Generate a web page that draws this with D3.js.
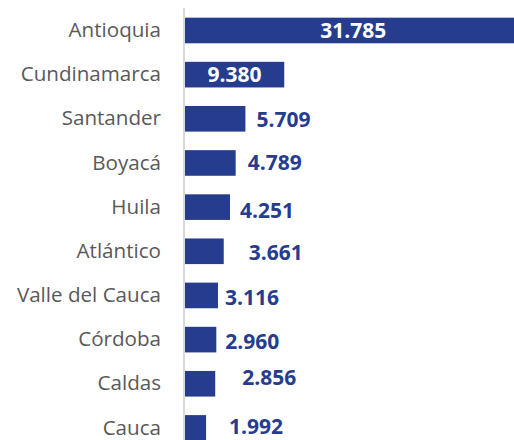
<!DOCTYPE html>
<html>
<head>
<meta charset="utf-8">
<script src="https://cdn.jsdelivr.net/npm/d3@7"></script>
<style>
  html, body { margin: 0; padding: 0; background: #fff; overflow: hidden; }
  svg { display: block; }
</style>
</head>
<body>
<svg id="chart" width="514" height="440"></svg>
<script>
const departments = ['Antioquia', 'Cundinamarca', 'Santander', 'Boyacá', 'Huila',
  'Atlántico', 'Valle del Cauca', 'Córdoba', 'Caldas', 'Cauca'];
const cases = [31785, 9380, 5709, 4789, 4251, 3661, 3116, 2960, 2856, 1992];
const valueLabels = ['31.785', '9.380', '5.709', '4.789', '4.251',
  '3.661', '3.116', '2.960', '2.856', '1.992'];

// hand-placed label nudges (like dragged labels in the original), px
const labelDx = [0, 0, 11, 12, 10, 25, 7, 9, 27, 23];
const labelDy = [0, 0, 1, -1, 3, 1, 2, 2, -6, -1];

const width = 514;
const height = 440;
const marginLeft = 185;

const svg = d3.select('#chart');

const x = d3.scaleLinear()
  .domain([0, 10000])
  .range([marginLeft, marginLeft + 105.8]);

const y = d3.scaleBand()
  .domain(departments)
  .range([8.4, 450])
  .paddingInner(0.42)
  .paddingOuter(0.21);

// category axis, labels only
const yAxis = d3.axisLeft(y).tickSize(0).tickPadding(23);
svg.append('g')
  .attr('transform', `translate(${marginLeft - 1},0)`)
  .call(yAxis)
  .call(g => g.select('.domain').remove())
  .selectAll('text')
  .attr('fill', '#595959')
  .style('font-family', '"Open Sans", sans-serif')
  .style('font-size', '20.6px');

svg.append('g')
  .selectAll('rect')
  .data(cases)
  .join('rect')
  .attr('x', x(0))
  .attr('y', (d, i) => y(departments[i]))
  .attr('width', d => x(d) - x(0))
  .attr('height', y.bandwidth())
  .attr('fill', '#253C8F');

// axis line
svg.append('line')
  .attr('x1', marginLeft - 1).attr('x2', marginLeft - 1)
  .attr('y1', 8).attr('y2', height)
  .attr('stroke', '#d9d9d9')
  .attr('stroke-width', 2);

svg.append('g')
  .selectAll('text')
  .data(cases)
  .join('text')
  .attr('x', (d, i) => i < 2 ? (x(0) + x(d)) / 2 : x(d) + labelDx[i])
  .attr('y', (d, i) => y(departments[i]) + y.bandwidth() / 2 + labelDy[i])
  .attr('dy', '0.36em')
  .attr('text-anchor', (d, i) => i < 2 ? 'middle' : 'start')
  .attr('fill', (d, i) => i < 2 ? '#ffffff' : '#253C8F')
  .style('font-family', '"Open Sans", sans-serif')
  .style('font-weight', 'bold')
  .style('font-size', '21px')
  .text((d, i) => valueLabels[i]);
</script>
</body>
</html>
